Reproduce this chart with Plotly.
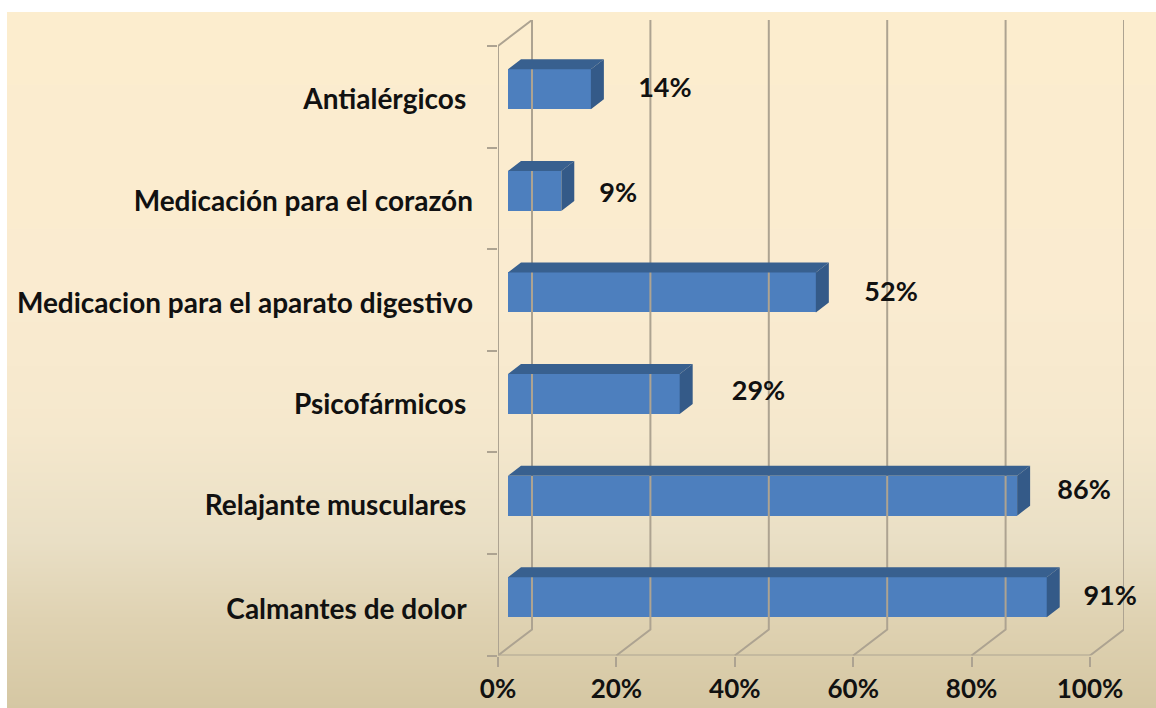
import plotly.graph_objects as go

categories = ["Calmantes de dolor", "Relajante musculares", "Psicofármicos",
              "Medicacion para el aparato digestivo", "Medicación para el corazón", "Antialérgicos"]
values = [91, 86, 29, 52, 9, 14]
x_ticks = [0, 20, 40, 60, 80, 100]
x_tick_labels = ["0%", "20%", "40%", "60%", "80%", "100%"]

W, H = 1156, 708
# chart geometry in pixels
PX0, PX100, PY_BOT, PY_TOP = 498, 1090, 655.5, 46
WALL_DX, WALL_DY = 34, 26
BAR_DX, BAR_DY = 10, 7.5
SIDE_DX, SIDE_DY = 13, 10
BAR_H = 40
ux = (PX100 - PX0) / 100
uy = (PY_BOT - PY_TOP) / len(categories)
wall_x, wall_y = WALL_DX / ux, WALL_DY / uy
bar_x, bar_y = BAR_DX / ux, BAR_DY / uy
side_x, side_y = SIDE_DX / ux, SIDE_DY / uy
bar_w = BAR_H / uy
GRID = "#ADA391"
ymin, ymax = -0.5, len(categories) - 0.5

# manual label nudges (as moved by hand in the original)
label_dx = [12.4, 13, 15, 14.4, 11.3, 14.2]
label_dy = [0.066, 0.11, 0.086, 0.06, 0.03, 0.06]
cat_label_dy = [-0.04, -0.02, -0.03, -0.03, -0.03, -0.02]
cat_pad = ["\u00a0", "\u00a0", "\u00a0", "", "", "\u00a0"]

fig = go.Figure()

# background gradient
bg_pos = [12, 300, 430, 540, 620, 708]
bg_col = ["#FCEDCE", "#FAEBD0", "#F5E8CD", "#E9DFC5", "#DFD2B2", "#D5C7A3"]
lo, hi = bg_pos[0], bg_pos[-1]
fig.add_trace(go.Heatmap(
    x=[0, 1], y=bg_pos, z=[[p, p] for p in bg_pos], zsmooth="best", showscale=False,
    zmin=lo, zmax=hi, hoverinfo="skip",
    colorscale=[[(p - lo) / (hi - lo), c] for p, c in zip(bg_pos, bg_col)],
))

chart = dict(xaxis="x2", yaxis="y2", cliponaxis=False, hoverinfo="skip", showlegend=False)

# walls: back gridlines and floor diagonals
gx, gy = [], []
for t in x_ticks:
    gx += [t, t + wall_x, t + wall_x, None]
    gy += [ymin, ymin + wall_y, ymax + wall_y, None]
fig.add_trace(go.Scatter(x=gx, y=gy, mode="lines", line=dict(color=GRID, width=2), **chart))
# front axis lines
fig.add_trace(go.Scatter(
    x=[wall_x, 0, 0, x_ticks[-1]], y=[ymax + wall_y, ymax, ymin, ymin],
    mode="lines", line=dict(color=GRID, width=2), **chart))

# bars
centers = list(range(len(categories)))
fig.add_trace(go.Bar(
    x=values, y=centers, base=bar_x, orientation="h", width=bar_w,
    offset=bar_y - bar_w / 2, marker=dict(color="#4D7FBE", line=dict(width=0)),
    xaxis="x2", yaxis="y2", hoverinfo="skip", showlegend=False,
))
# top and side faces
tx, ty, sx, sy = [], [], [], []
for c, v in zip(centers, values):
    left, right = bar_x, bar_x + v
    low, high = c + bar_y - bar_w / 2, c + bar_y + bar_w / 2
    tx += [left, right, right + side_x, left + side_x, left, None]
    ty += [high, high, high + side_y, high + side_y, high, None]
    sx += [right, right + side_x, right + side_x, right, right, None]
    sy += [low, low + side_y, high + side_y, high, low, None]
fig.add_trace(go.Scatter(x=tx, y=ty, mode="lines", fill="toself", fillcolor="#38608F",
                         line=dict(width=0), **chart))
fig.add_trace(go.Scatter(x=sx, y=sy, mode="lines", fill="toself", fillcolor="#345A88",
                         line=dict(width=0), **chart))

# value labels
fig.add_trace(go.Scatter(
    x=[v + d for v, d in zip(values, label_dx)],
    y=[c + d for c, d in zip(centers, label_dy)],
    mode="text", text=[f"{v}%" for v in values], textposition="middle center",
    textfont=dict(family="Lato", size=27, color="#111111", weight="bold"), **chart))

fig.update_layout(
    width=W, height=H, autosize=False, margin=dict(l=0, r=0, t=0, b=0),
    paper_bgcolor="white", plot_bgcolor="rgba(0,0,0,0)", showlegend=False,
    xaxis=dict(domain=[7 / W, 1], range=[0, 1], visible=False, fixedrange=True),
    yaxis=dict(domain=[0, 1 - 12 / H], range=[hi, lo], visible=False, fixedrange=True),
    xaxis2=dict(
        domain=[PX0 / W, (PX100 + WALL_DX) / W], range=[0, 100 + wall_x], anchor="y2",
        tickmode="array", tickvals=x_ticks, ticktext=x_tick_labels,
        tickfont=dict(family="Lato", size=26, color="#111111", weight="bold"),
        ticks="outside", ticklen=10, tickwidth=2, tickcolor=GRID, automargin=False,
        showgrid=False, zeroline=False, showline=False, fixedrange=True,
    ),
    yaxis2=dict(
        domain=[1 - PY_BOT / H, 1 - (PY_TOP - WALL_DY) / H], range=[ymin, ymax + wall_y], anchor="x2",
        tickmode="array", tickvals=[c + d for c, d in zip(centers, cat_label_dy)],
        ticktext=[n + p for n, p in zip(categories, cat_pad)],
        tickfont=dict(family="Lato", size=28, color="#111111", weight="bold"),
        ticks="", ticklabelstandoff=24, automargin=False,
        minor=dict(tickmode="array", tickvals=[ymin + i for i in range(len(categories) + 1)],
                   ticks="outside", ticklen=10, tickwidth=2, tickcolor=GRID, showgrid=False),
        showgrid=False, zeroline=False, showline=False, fixedrange=True,
    ),
    bargap=0,
)
fig.write_html("out.html", config={"displayModeBar": False},
               post_script="document.body.style.margin='0';document.documentElement.style.overflow='hidden';")
